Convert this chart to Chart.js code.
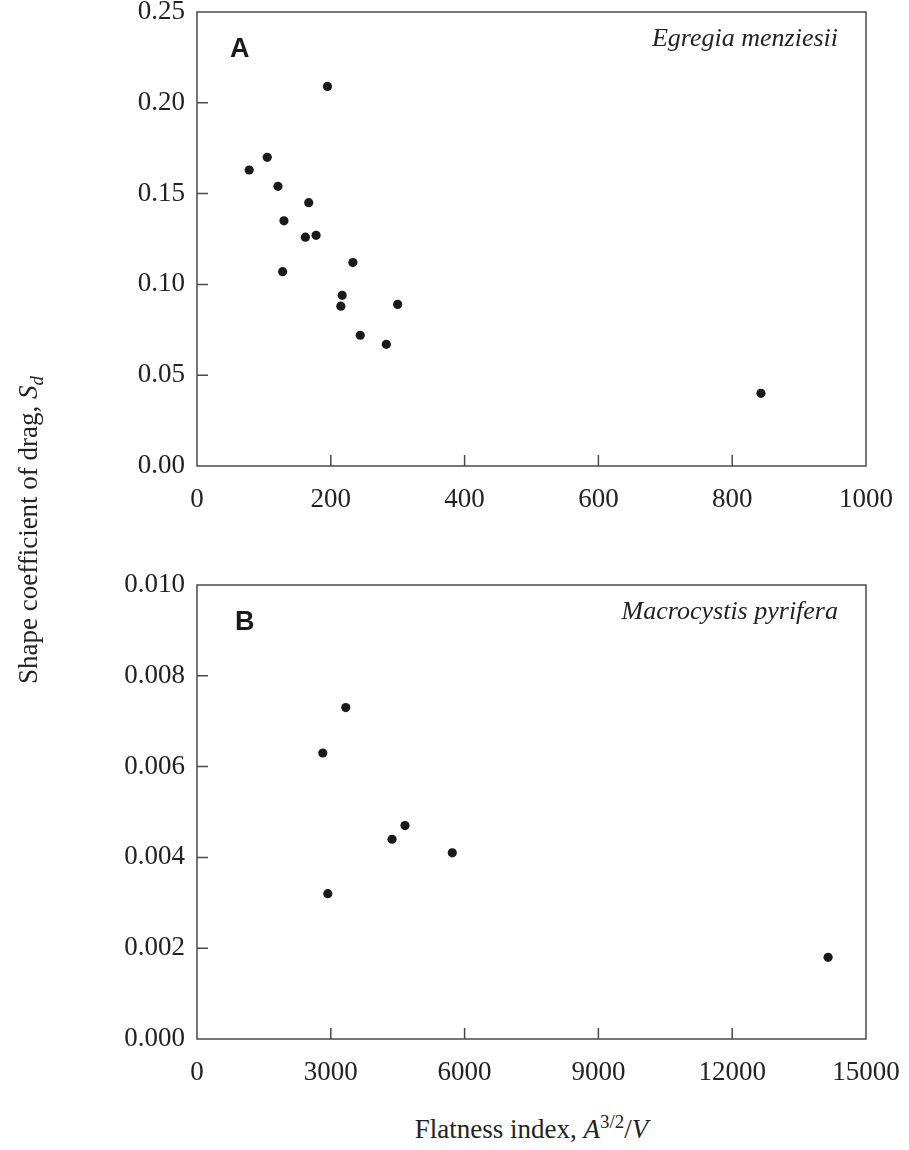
<!DOCTYPE html>
<html>
<head>
<meta charset="utf-8">
<script src="https://cdn.jsdelivr.net/npm/chart.js@4.4.1/dist/chart.umd.min.js"></script>
<style>
  body { margin: 0; background: #fff; }
  #page { position: relative; width: 909px; height: 1150px; font-family: "Liberation Serif", "Times New Roman", serif; color: #222; }
  .chartbox { position: absolute; left: 0; width: 909px; height: 520px; }
  .panel { position: absolute; font-family: "Liberation Sans", Arial, sans-serif; font-weight: bold; font-size: 27px; line-height: 27px; color: #1a1a1a; }
  .species { position: absolute; right: 71px; font-style: italic; font-size: 26px; line-height: 26px; }
  .ytitle { position: absolute; left: -172px; top: 515px; width: 400px; height: 30px; line-height: 30px; font-size: 27px; text-align: center; transform: rotate(-90deg); }
  .xtitle { position: absolute; left: 197px; width: 669px; top: 1114px; line-height: 30px; font-size: 27px; text-align: center; }
  sub, sup { font-size: 70%; line-height: 0; }
</style>
</head>
<body>
<div id="page">
  <div class="chartbox" style="top:0"><canvas id="chart-a"></canvas></div>
  <div class="chartbox" style="top:573px"><canvas id="chart-b"></canvas></div>
  <div class="panel" style="left:230px; top:35px">A</div>
  <div class="species" style="top:25px">Egregia menziesii</div>
  <div class="panel" style="left:235px; top:608px">B</div>
  <div class="species" style="top:598px">Macrocystis pyrifera</div>
  <div class="ytitle">Shape coefficient of drag, <i>S<sub>d</sub></i></div>
  <div class="xtitle">Flatness index, <i>A</i><sup>3/2</sup>/<i>V</i></div>
</div>
<script>
// Panel A - Egregia menziesii
const flatA = [78, 105, 121, 130, 128, 162, 167, 178, 195, 215, 217, 233, 244, 283, 300, 843];
const dragA = [0.163, 0.170, 0.154, 0.135, 0.107, 0.126, 0.145, 0.127, 0.209, 0.088, 0.094, 0.112, 0.072, 0.067, 0.089, 0.040];
const xTicksA = [0, 200, 400, 600, 800, 1000];
const yTicksA = [0, 0.05, 0.10, 0.15, 0.20, 0.25];

// Panel B - Macrocystis pyrifera
const flatB = [2821, 2933, 3336, 4373, 4664, 5724, 14150];
const dragB = [0.0063, 0.0032, 0.0073, 0.0044, 0.0047, 0.0041, 0.0018];
const xTicksB = [0, 3000, 6000, 9000, 12000, 15000];
const yTicksB = [0, 0.002, 0.004, 0.006, 0.008, 0.010];

const tickFont = { family: "'Liberation Serif', 'Times New Roman', serif", size: 27 };
const ink = '#1a1a1a';
const frameColor = '#4a4a4a';

// box around plot area + short inward ticks
const framePlugin = {
    id: 'frame',
    afterDraw(chart) {
        const { ctx, chartArea: a, scales } = chart;
        ctx.save();
        ctx.strokeStyle = frameColor;
        ctx.lineWidth = 1.5;
        ctx.strokeRect(a.left, a.top, a.right - a.left, a.bottom - a.top);
        ctx.beginPath();
        scales.y.ticks.forEach(t => {
            if (t.value <= scales.y.min || t.value >= scales.y.max) return;
            const py = scales.y.getPixelForValue(t.value);
            ctx.moveTo(a.left, py);
            ctx.lineTo(a.left + 11, py);
        });
        scales.x.ticks.forEach(t => {
            if (t.value <= scales.x.min || t.value >= scales.x.max) return;
            const px = scales.x.getPixelForValue(t.value);
            ctx.moveTo(px, a.bottom);
            ctx.lineTo(px, a.bottom - 11);
        });
        ctx.stroke();
        ctx.restore();
    }
};

function makePoints(xs, ys) {
    return xs.map((x, i) => ({ x, y: ys[i] }));
}

function buildChart(id, xs, ys, xTicks, yTicks, yDigits) {
    const ctx = document.getElementById(id).getContext('2d');
    return new Chart(ctx, {
        type: 'scatter',
        data: {
            datasets: [{
                data: makePoints(xs, ys),
                backgroundColor: ink,
                borderWidth: 0,
                pointRadius: 4.6,
                pointHoverRadius: 4.6
            }]
        },
        options: {
            responsive: true,
            maintainAspectRatio: false,
            animation: false,
            layout: { padding: { top: 12, right: 43, left: 0, bottom: 0 } },
            plugins: { legend: { display: false }, tooltip: { enabled: false } },
            scales: {
                x: {
                    type: 'linear',
                    min: xTicks[0],
                    max: xTicks[xTicks.length - 1],
                    afterBuildTicks: s => { s.ticks = xTicks.map(v => ({ value: v })); },
                    // keep edge labels from shrinking the plot area
                    afterFit: s => { s.height = 54; s.paddingLeft = 0; s.paddingRight = 0; },
                    grid: { display: false, drawTicks: false },
                    border: { display: false },
                    ticks: { font: tickFont, color: '#222', padding: 18, maxRotation: 0, callback: v => String(v) }
                },
                y: {
                    type: 'linear',
                    min: yTicks[0],
                    max: yTicks[yTicks.length - 1],
                    afterBuildTicks: s => { s.ticks = yTicks.map(v => ({ value: v })); },
                    afterFit: s => { s.width = 197; s.paddingTop = 0; s.paddingBottom = 0; },
                    grid: { display: false, drawTicks: false },
                    border: { display: false },
                    ticks: { font: tickFont, color: '#222', padding: 12, callback: v => Number(v).toFixed(yDigits) }
                }
            }
        },
        plugins: [framePlugin]
    });
}

buildChart('chart-a', flatA, dragA, xTicksA, yTicksA, 2);
buildChart('chart-b', flatB, dragB, xTicksB, yTicksB, 3);
</script>
</body>
</html>
